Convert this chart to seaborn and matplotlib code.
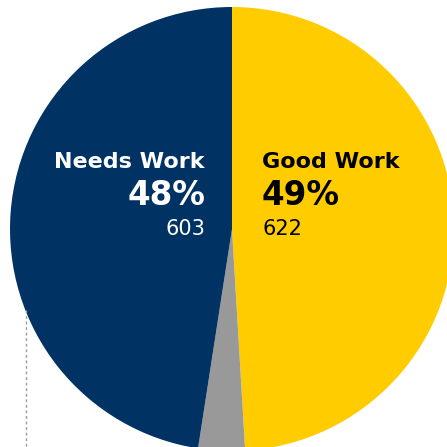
import matplotlib
matplotlib.use("Agg")
import matplotlib.pyplot as plt
import seaborn as sns

# Review outcome counts
categories = ["Good Work", "Other", "Needs Work"]
counts = [622, 43, 603]
colors = ["#FFCC00", "#999999", "#003263"]
label_colors = ["#000000", None, "#FFFFFF"]

sns.set_theme(style="white")
plt.rcParams["font.family"] = ["DejaVu Sans"]

W = H = 447
fig = plt.figure(figsize=(W / 100, H / 100), dpi=100)
ax = fig.add_axes([0, 0, 1, 1])

wedges, _ = ax.pie(
    counts,
    colors=colors,
    startangle=90,
    counterclock=False,
    radius=1.0,
    wedgeprops=dict(linewidth=0, antialiased=True),
)

# pie centre sits at (232, 229) px with a 222 px radius; the right and bottom are cropped
r_px, cx, cy = 222.0, 232.0, 229.0
ax.set_xlim(-cx / r_px, (W - cx) / r_px)
ax.set_ylim(-(H - cy) / r_px, cy / r_px)
ax.set_aspect("equal")
ax.axis("off")

total = sum(counts)


def px(x, y):
    return (x - cx) / r_px, (cy - y) / r_px


NAME_SIZE, PCT_SIZE, COUNT_SIZE = 16, 23.5, 15

# Good Work labels (left aligned, right half)
g = categories.index("Good Work")
pct_g = round(100 * counts[g] / total)
ax.text(*px(262, 162), categories[g], ha="left", va="center",
        fontsize=NAME_SIZE, fontweight="bold", color=label_colors[g])
ax.text(*px(262, 196), f"{pct_g}%", ha="left", va="center",
        fontsize=PCT_SIZE, fontweight="bold", color=label_colors[g])
ax.text(*px(262, 229), f"{counts[g]}", ha="left", va="center",
        fontsize=COUNT_SIZE, color=label_colors[g])

# Needs Work labels (right aligned, left half)
n = categories.index("Needs Work")
pct_n = round(100 * counts[n] / total)
ax.text(*px(205, 162), categories[n], ha="right", va="center",
        fontsize=NAME_SIZE, fontweight="bold", color=label_colors[n])
ax.text(*px(205, 196), f"{pct_n}%", ha="right", va="center",
        fontsize=PCT_SIZE, fontweight="bold", color=label_colors[n])
ax.text(*px(205, 229), f"{counts[n]}", ha="right", va="center",
        fontsize=COUNT_SIZE, color=label_colors[n])

# dotted guide line on the left
fig.add_artist(plt.Line2D([26 / W, 26 / W], [1 - 310 / H, 0], transform=fig.transFigure,
                          color="#9a9a9a", linewidth=1, linestyle=(0, (2, 2))))

fig.savefig("out.png", dpi=100, facecolor="white")
